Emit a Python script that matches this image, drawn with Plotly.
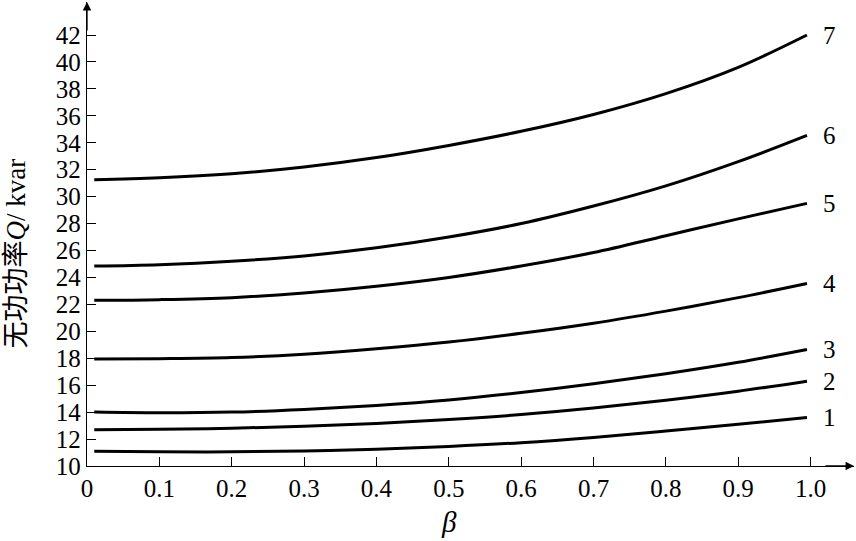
import plotly.graph_objects as go

beta = [0.01, 0.1, 0.2, 0.3, 0.4, 0.5, 0.6, 0.7, 0.8, 0.9, 0.995]
q1 = [11.1, 11.05, 11.05, 11.12, 11.25, 11.45, 11.73, 12.12, 12.6, 13.1, 13.6]
q2 = [12.7, 12.72, 12.8, 12.95, 13.15, 13.45, 13.82, 14.3, 14.88, 15.55, 16.3]
q3 = [14.0, 13.95, 14.0, 14.2, 14.5, 14.9, 15.45, 16.1, 16.85, 17.7, 18.65]
q4 = [17.95, 17.97, 18.05, 18.3, 18.7, 19.2, 19.85, 20.6, 21.5, 22.5, 23.55]
q5 = [22.3, 22.35, 22.5, 22.85, 23.35, 24.0, 24.85, 25.85, 27.1, 28.35, 29.5]
q6 = [24.85, 24.95, 25.2, 25.6, 26.2, 27.0, 28.0, 29.3, 30.8, 32.6, 34.55]
q7 = [31.25, 31.4, 31.7, 32.2, 32.9, 33.8, 34.85, 36.1, 37.65, 39.6, 42.0]
series = [q1, q2, q3, q4, q5, q6, q7]
curve_labels = ["1", "2", "3", "4", "5", "6", "7"]

x_ticks = [0, 0.1, 0.2, 0.3, 0.4, 0.5, 0.6, 0.7, 0.8, 0.9, 1.0]
x_ticktext = ["0", "0.1", "0.2", "0.3", "0.4", "0.5", "0.6", "0.7", "0.8", "0.9", "1.0"]
y_ticks = list(range(10, 43, 2))

SERIF = "Liberation Serif"
TITLE_FONT = "Liberation Serif, Noto Sans CJK SC"

fig = go.Figure()
for s in series:
    fig.add_trace(go.Scatter(x=beta, y=s, mode="lines",
                             line=dict(color="black", width=3, shape="spline", smoothing=1.0),
                             showlegend=False, hoverinfo="skip"))

for lab, s in zip(curve_labels, series):
    fig.add_annotation(x=1.026, y=s[-1], text=lab, showarrow=False,
                       font=dict(family=SERIF, size=25, color="black"),
                       xanchor="center", yanchor="middle")

# axis arrows
fig.add_annotation(x=1.06, y=10, ax=-30, ay=0, text="", showarrow=True,
                   arrowhead=2, arrowsize=1.3, arrowwidth=1.3, arrowcolor="black")
fig.add_annotation(x=0, y=44.45, ax=0, ay=30, text="", showarrow=True,
                   arrowhead=2, arrowsize=1.3, arrowwidth=1.3, arrowcolor="black")

# y axis title
fig.add_annotation(xref="paper", yref="paper", x=-0.092, y=0.459,
                   text="无功功率<i>Q</i>/ kvar", textangle=-90, showarrow=False,
                   font=dict(family=TITLE_FONT, size=27, color="black"),
                   xanchor="center", yanchor="middle")
# x axis title
fig.add_annotation(xref="x", yref="paper", x=0.5, y=-0.12,
                   text="<i>β</i>", showarrow=False,
                   font=dict(family=SERIF, size=29, color="black"),
                   xanchor="center", yanchor="middle")

fig.update_xaxes(range=[0, 1.06], tickvals=x_ticks, ticktext=x_ticktext,
                 showgrid=False, zeroline=False, showline=True, linecolor="black",
                 linewidth=1.3, ticks="inside", ticklen=9, tickwidth=1.2, tickcolor="black",
                 tickfont=dict(family=SERIF, size=25, color="black"))
fig.update_yaxes(range=[10, 44.45], tickvals=y_ticks,
                 showgrid=False, zeroline=False, showline=True, linecolor="black",
                 linewidth=1.3, ticks="inside", ticklen=9, tickwidth=1.2, tickcolor="black",
                 tickfont=dict(family=SERIF, size=25, color="black"))

fig.update_layout(width=856, height=541, plot_bgcolor="white", paper_bgcolor="white",
                  margin=dict(l=87, r=2, t=2, b=75))

fig.write_html("out.html", config={"displayModeBar": False},
               post_script="document.body.style.margin='0';")
